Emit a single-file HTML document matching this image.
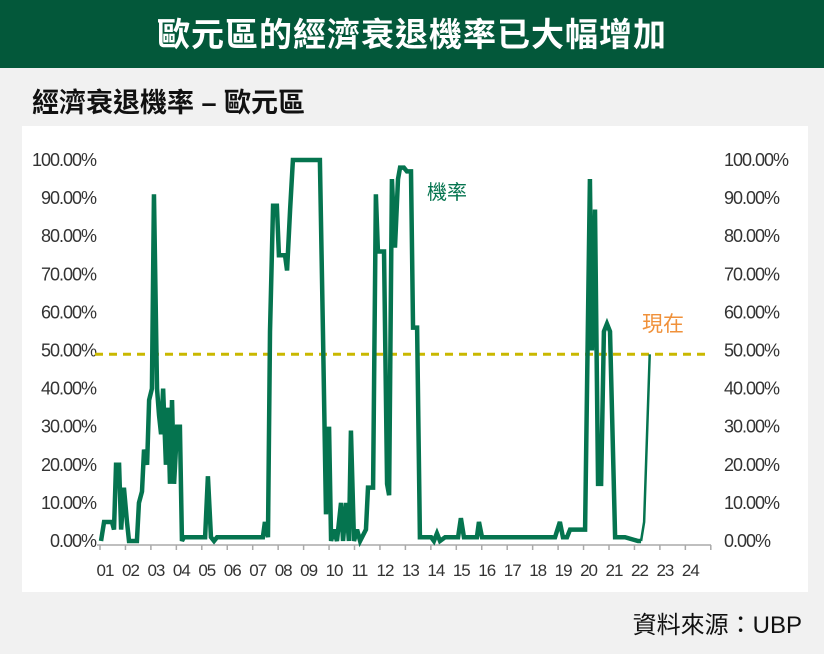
<!DOCTYPE html>
<html><head><meta charset="utf-8"><style>
body{margin:0;width:824px;height:654px;background:#f1f1f1;font-family:"Liberation Sans","Noto Sans CJK TC",sans-serif;overflow:hidden;position:relative}
#hdr{position:absolute;left:0;top:0;width:824px;height:68px;background:#03583a;color:#fff;font-size:33px;font-weight:bold;text-align:center;line-height:70px;letter-spacing:1px}
#sub{position:absolute;left:32px;top:81px;font-size:27px;font-weight:bold;color:#111}
#panel{position:absolute;left:22px;top:126px;width:786px;height:466px;background:#fff}
#src{position:absolute;right:22px;top:605px;font-size:24px;color:#111}
svg{position:absolute;left:0;top:0}
</style></head><body>
<div id="hdr">歐元區的經濟衰退機率已大幅增加</div>
<div id="sub">經濟衰退機率 – 歐元區</div>
<div id="panel"></div>
<div id="src">資料來源：UBP</div>
<svg id="chart" width="824" height="654"></svg>
<script>
const dates=[2001.04,2001.16,2001.47,2001.55,2001.63,2001.75,2001.83,2001.94,2002.06,2002.14,2002.45,2002.53,2002.65,2002.73,2002.85,2002.93,2003.04,2003.12,2003.24,2003.32,2003.40,2003.48,2003.59,2003.67,2003.75,2003.83,2003.91,2004.03,2004.14,2004.22,2004.30,2005.13,2005.24,2005.36,2005.48,2005.60,2007.40,2007.48,2007.60,2007.68,2007.80,2007.95,2008.03,2008.27,2008.35,2008.47,2008.58,2009.64,2009.76,2009.88,2010.00,2010.08,2010.19,2010.31,2010.47,2010.55,2010.67,2010.78,2010.86,2010.98,2011.10,2011.22,2011.45,2011.53,2011.73,2011.84,2011.92,2012.16,2012.28,2012.36,2012.47,2012.59,2012.71,2012.79,2012.94,2013.06,2013.22,2013.30,2013.46,2013.57,2014.01,2014.12,2014.24,2014.36,2014.56,2015.07,2015.18,2015.30,2015.81,2015.89,2016.01,2018.88,2019.07,2019.19,2019.35,2019.47,2020.06,2020.25,2020.33,2020.45,2020.57,2020.69,2020.80,2020.92,2021.04,2021.24,2021.63,2022.14,2022.26];
const probs=[0,5,5,3,20,20,3,14,5,0,0,10,13,24,20,37,40,91,40,33,28,40,20,35,15,37,15,30,30,0,1,1,17,1,0,1,1,5,1,55,88,88,75,75,71,87,100,100,55,7,30,0,3,0,10,0,10,0,29,0,3,0,3,14,14,91,76,76,15,12,95,77,95,98,98,97,97,56,56,1,1,0,2,0,1,1,6,1,1,5,1,1,5,1,1,3,3,95,50,87,15,15,55,57,55,1,1,0,0];
const tailDates=[2022.26,2022.38,2022.60];
const tailProbs=[0,5,49];
const yTicks=[0,10,20,30,40,50,60,70,80,90,100];
const xLabels=["01","02","03","04","05","06","07","08","09","10","11","12","13","14","15","16","17","18","19","20","21","22","23","24"];
const threshold=49;
const NS="http://www.w3.org/2000/svg",svg=document.getElementById('chart');
const X=t=>100+(t-2001)*25.45, Y=v=>541-v*3.81;
function mk(tag,a,parent){const e=document.createElementNS(NS,tag);for(const k in a)e.setAttribute(k,a[k]);(parent||svg).appendChild(e);return e;}
yTicks.forEach(v=>{
 const l=mk('text',{x:96,y:Y(v)+6,'text-anchor':'end','font-size':18,fill:'#333','letter-spacing':'-1'});l.textContent=v.toFixed(2)+'%';
 
 
 const r=mk('text',{x:724,y:Y(v)+6,'font-size':18,fill:'#333','letter-spacing':'-1'});r.textContent=v.toFixed(2)+'%';
 
 
});
const ax=mk('line',{x1:97,x2:711,y1:545,y2:545,stroke:'#aaa','stroke-width':1.5});


for(let i=0;i<=xLabels.length;i++){mk('line',{x1:X(2001+i),x2:X(2001+i),y1:545,y2:550,stroke:'#aaa','stroke-width':1.5});}
xLabels.forEach((s,i)=>{const t=mk('text',{x:X(2001+i)+5,y:576,'text-anchor':'middle','font-size':17,fill:'#333','letter-spacing':'-1'});t.textContent=s;
 
 });
const th=mk('line',{x1:95,x2:711,y1:Y(threshold),y2:Y(threshold),stroke:'#c9b800','stroke-width':3,'stroke-dasharray':'8,6'});


const p=mk('polyline',{points:dates.map((d,i)=>X(d)+','+Y(probs[i])).join(' '),fill:'none',stroke:'#05744f','stroke-width':4.5,'stroke-linejoin':'miter','stroke-miterlimit':3});


const p2=mk('polyline',{points:tailDates.map((d,i)=>X(d)+','+Y(tailProbs[i])).join(' '),fill:'none',stroke:'#05744f','stroke-width':2.5});


const lb=mk('text',{x:427,y:199,'font-size':20,fill:'#05744f'});lb.textContent='機率';


const now=mk('text',{x:642,y:331,'font-size':21,fill:'#f0913a'});now.textContent='現在';


</script>
</body></html>
